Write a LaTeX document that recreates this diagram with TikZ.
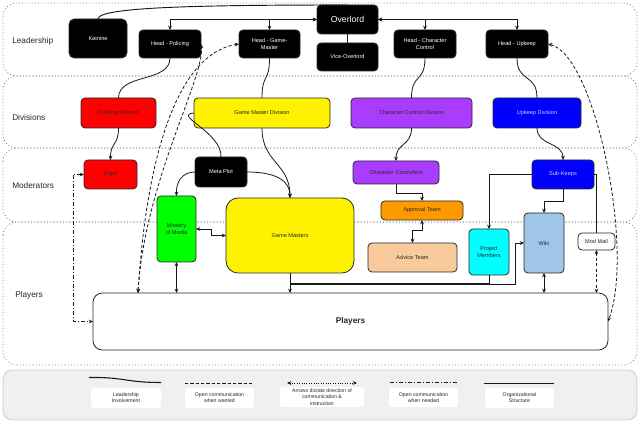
\documentclass[tikz,border=0pt]{standalone}
\usepackage{fontspec}
\setmainfont{Liberation Sans}
\usetikzlibrary{arrows.meta,calc}
\definecolor{cpurple}{RGB}{170,60,255}
\definecolor{corange}{RGB}{255,153,0}
\definecolor{cpeach}{RGB}{249,203,156}
\definecolor{cwiki}{RGB}{159,197,232}
\definecolor{ccyan}{RGB}{0,255,255}
\definecolor{cgreen}{RGB}{0,255,0}
\definecolor{cbord}{RGB}{40,40,40}
\definecolor{clane}{RGB}{110,110,110}
\definecolor{cbluetext}{RGB}{205,205,255}
\definecolor{clegend}{RGB}{240,240,240}
\definecolor{clegendb}{RGB}{205,205,205}
\definecolor{ctext}{RGB}{40,40,40}
\newcommand\bx[7]{\node[#6, minimum width={(#4-#2)*0.75pt}, minimum height={(#5-#3)*0.75pt}] (#1) at ({(#2+#4)/2},{(#3+#5)/2}) {#7};}
\begin{document}
\begin{tikzpicture}[x=0.75pt,y=-0.75pt,
  >={Stealth[length=3.2pt,width=2.8pt]},
  base/.style={draw=cbord, line width=0.6pt, rounded corners=3pt, align=center,
    inner sep=0pt, outer sep=0pt, font=\fontsize{4.2}{5}\selectfont, text=ctext},
  blk/.style={base, fill=black, text=white},
  lane/.style={draw=clane, line width=0.6pt, dash pattern=on 0.6pt off 1.8pt, rounded corners=10pt},
  lanelabel/.style={anchor=west, inner sep=0pt, font=\fontsize{6.2}{7}\selectfont, text=ctext},
  conn/.style={draw=black!90, line width=0.6pt},
  dsh/.style={conn, dash pattern=on 2.4pt off 1.6pt},
  dashdot/.style={conn, dash pattern=on 3pt off 1.5pt on 0.8pt off 1.5pt},
  legtext/.style={fill=white, draw=none, rounded corners=2pt, align=center, inner sep=0pt,
    outer sep=0pt, font=\fontsize{3.9}{4.7}\selectfont, text=ctext}]
\useasboundingbox (0,0) rectangle (640,423);

% lanes
\draw[lane] (3,3) rectangle (637,76);
\draw[lane] (3,76) rectangle (637,148);
\draw[lane] (3,148) rectangle (637,222);
\draw[lane] (3,222) rectangle (637,365);
\node[lanelabel] (lLead) at (12,41) {Leadership};
\node[lanelabel] (lDiv) at (12,118) {Divisions};
\node[lanelabel] (lMod) at (12,186) {Moderators};
\node[lanelabel] (lPlay) at (15,295) {Players};

% legend
\bx{legend}{3}{370}{637}{420}{draw=clegendb, fill=clegend, line width=0.6pt, rounded corners=7pt, outer sep=0pt}{}
\bx{lg1}{91}{388}{161}{408}{legtext}{Leadership\\Involvement}
\bx{lg2}{185}{388}{254}{408}{legtext}{Open communication\\when wanted}
\bx{lg3}{280}{387}{364}{407}{legtext}{Arrows dictate direction of\\communication \&\\instruction}
\bx{lg4}{389}{388}{458}{407}{legtext}{Open communication\\when needed}
\bx{lg5}{485}{388}{554}{408}{legtext}{Organizational\\Structure}
\draw[conn, line width=0.8pt] (89,377.5) .. controls (125,377) and (125,382.5) .. (161,382.5);
\draw[dsh] (185,383) -- (252,383);
\draw[conn, <->, dash pattern=on 0.6pt off 1.2pt] (287,383) -- (357,383);
\draw[dashdot] (390,382) -- (459,382);
\draw[conn] (484,383) -- (554,383);

% leadership
\bx{katnine}{69}{19}{127}{58}{blk, rounded corners=4pt}{Katnine}
\bx{hpol}{139}{30}{201}{58}{blk}{Head - Policing}
\bx{hgm}{239}{30}{300}{58}{blk}{Head - Game-\\Master}
\bx{overlord}{317}{5}{378}{34}{blk, font=\fontsize{6.5}{7.5}\selectfont}{Overlord}
\bx{vice}{317}{43}{378}{71}{blk}{Vice-Overlord}
\bx{hcc}{394}{30}{456}{58}{blk}{Head - Character\\Control}
\bx{hup}{486}{30}{548}{58}{blk}{Head - Upkeep}

% divisions
\bx{pdiv}{81}{98}{156}{128}{base, fill=red}{Policing Division}
\bx{gmdiv}{194}{98}{330}{128}{base, fill=yellow}{Game Master Division}
\bx{ccdiv}{351}{98}{472}{128}{base, fill=cpurple}{Character Control Division}
\bx{updiv}{493}{98}{581}{128}{base, fill=blue, text=cbluetext}{Upkeep Division}

% moderators / players
\bx{cops}{84}{160}{137}{189}{base, fill=red}{Cops}
\bx{meta}{195}{157}{247}{187}{blk}{Meta Plot}
\bx{mom}{157}{196}{196}{262}{base, fill=cgreen}{Ministry\\of Media}
\bx{gms}{226}{198}{354}{273}{base, fill=yellow, rounded corners=9pt}{Game Masters}
\bx{cc}{353}{161}{439}{184}{base, fill=cpurple}{Character Controllers}
\bx{appr}{381}{201}{463}{220}{base, fill=corange}{Approval Team}
\bx{advice}{368}{243}{457}{272}{base, fill=cpeach}{Advice Team}
\bx{pm}{469}{229}{509}{275}{base, fill=ccyan}{Project\\Members}
\bx{wiki}{524}{213}{564}{273}{base, fill=cwiki}{Wiki}
\bx{subk}{532}{160}{594}{189}{base, fill=blue, text=cbluetext}{Sub-Keeps}
\bx{modmail}{578}{233}{615}{250}{base, fill=white}{Mod Mail}
\bx{players}{93}{293}{608}{350}{base, fill=white, rounded corners=7pt, font=\bfseries\fontsize{6.2}{7}\selectfont}{Players}

% leadership connectors
\draw[conn, <->] (hpol.north) |- (overlord.west);
\draw[conn, <->] (hgm.north) |- (overlord.west);
\draw[conn, <->] (hcc.north) |- (overlord.east);
\draw[conn, <->] (hup.north) |- (overlord.east);
\draw[conn] (overlord.south) -- (vice.north);
\draw[conn, line width=0.7pt] (katnine.north) .. controls ++(0,-12) and (200,5) .. (overlord.north);

% leadership involvement curves
\draw[conn] (hpol.south) .. controls ++(0,25) and ++(0,-25) .. (pdiv.north);
\draw[conn] (hgm.south) .. controls ++(0,25) and ++(0,-25) .. (gmdiv.north);
\draw[conn] (hcc.south) .. controls ++(0,25) and ++(0,-25) .. (ccdiv.north);
\draw[conn] (hup.south) .. controls ++(0,25) and ++(0,-25) .. (updiv.north);
\draw[conn, ->] (pdiv.south) .. controls ++(0,18) and ++(0,-18) .. (cops.north);
\draw[conn] (gmdiv.west) .. controls (172,115) and (222,132) .. (meta.north);
\draw[conn, ->] (gmdiv.south) .. controls ++(0,35) and ++(0,-35) .. (gms.north);
\draw[conn, ->] (meta.east) .. controls (278,172) and (290,182) .. (gms.north);
\draw[conn, ->] (meta.west) .. controls (182,172) and (176,182) .. (mom.north);
\draw[conn, ->] (ccdiv.south) .. controls ++(0,18) and ++(0,-18) .. (cc.north);
\draw[conn, ->] (updiv.south) .. controls ++(0,18) and ++(0,-18) .. (subk.north);

% organizational
\draw[conn, <->] (mom.east) -- ++(15,0) |- (gms.west);
\draw[conn, <->] (mom.south) -- (mom.south |- players.north);
\draw[conn, ->] (gms.south) -- (gms.south |- players.north);
\coordinate (bus) at (515,284);
\draw[conn, line width=1.3pt] (gms.south |- bus) -- (pm.south |- bus);
\draw[conn] (gms.south) -- (gms.south |- bus);
\draw[conn, ->] (pm.south) |- (bus) |- (wiki.west);
\draw[conn, ->] (cc.south) -- ++(0,9) -| (appr.north);
\draw[conn, <->] (appr.south) -- ++(0,10) -| (advice.north);
\draw[conn, ->] (subk.west) -| (pm.north);
\draw[conn, ->] (subk.south) -- ++(0,12) -| (wiki.north);
\draw[conn] (subk.east) -| (modmail.north);
\draw[conn, <->] (wiki.south) -- (wiki.south |- players.north);
\draw[dsh, <->] (modmail.south) -- (modmail.south |- players.north);

% open communication
\coordinate (pa) at ($(players.north west)+(45,0)$);
\draw[dsh, <->] (pa) .. controls (145,180) and (170,55) .. (hgm.west);
\draw[dsh, <->] (pa) .. controls (145,180) and (205,78) .. (hpol.east);
\draw[dsh, <->] (hup.east) .. controls (595,55) and (635,250) .. (players.east);
\draw[dashdot, <->] (cops.west) -- ++(-11,0) |- (players.west);
\end{tikzpicture}
\end{document}
